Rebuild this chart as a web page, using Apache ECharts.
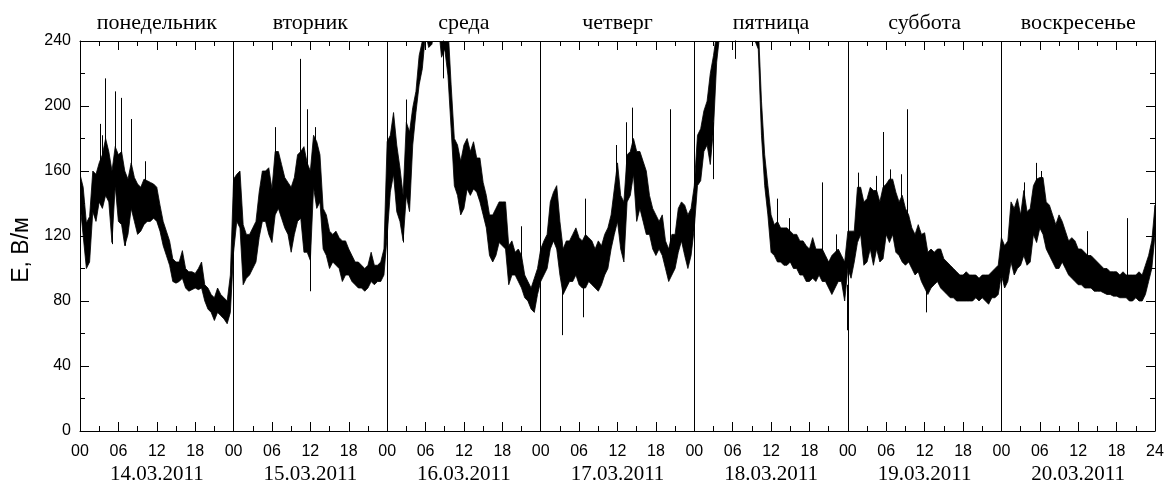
<!DOCTYPE html>
<html>
<head>
<meta charset="utf-8">
<script src="https://cdn.jsdelivr.net/npm/echarts@6/dist/echarts.min.js"></script>
<style>html,body{margin:0;padding:0;background:#fff}#c{width:1167px;height:487px}</style>
</head>
<body>
<div id="c"></div>
<script>
// ---- data ----
const days = ['понедельник','вторник','среда','четверг','пятница','суббота','воскресенье'];
const dates = ['14.03.2011','15.03.2011','16.03.2011','17.03.2011','18.03.2011','19.03.2011','20.03.2011'];
const hourLabels = ['00','06','12','18'];
const endLabel = '24';
const yName = 'E, В/м';

// upper / lower edge of the noisy band, every 30 min (E, V/m)
const hi1 = [158,150,128,132,160,158,165,170,180,172,160,175,170,172,160,155,165,156,152,150,155,154,153,152,150,139,129,123,117,106,104,104,111,100,98,98,97,100,104,90,88,84,82,88,84,82,80,96];
const lo1 = [140,120,100,104,135,129,141,137,145,141,116,151,129,127,114,121,137,129,121,123,127,129,129,131,129,123,114,108,102,92,91,92,94,88,86,87,88,87,88,80,75,73,68,73,71,69,66,73];
const hi2 = [155,158,160,127,121,121,125,129,147,160,160,162,149,172,172,164,156,153,150,156,170,172,175,165,160,182,178,170,137,133,123,121,123,119,117,117,112,108,104,104,102,100,102,110,102,102,104,112];
const lo2 = [110,129,125,90,94,96,100,104,119,129,129,121,116,133,137,131,125,121,110,121,129,131,110,110,105,150,137,141,112,108,100,104,102,100,92,96,96,92,90,88,88,86,88,92,90,92,92,96];
const hi3 = [178,182,196,176,162,145,190,184,199,209,231,240,260,260,265,270,270,260,260,250,213,180,176,166,176,180,172,178,168,168,153,145,133,133,137,141,141,141,114,117,110,112,108,96,92,88,94,100];
const lo3 = [120,147,158,135,129,117,145,135,176,196,213,223,245,236,238,250,250,230,235,219,186,151,145,133,137,149,145,149,147,141,133,125,108,104,108,116,114,112,90,96,96,92,88,82,80,75,73,84];
const hi4 = [112,117,121,141,147,151,129,112,117,117,121,125,119,117,121,119,117,112,117,114,121,125,133,149,165,145,141,170,172,180,172,172,166,160,145,137,133,129,133,117,112,121,121,137,141,139,133,137];
const lo4 = [92,96,100,112,117,112,96,84,88,92,92,96,90,88,88,92,90,88,86,90,96,100,112,121,129,112,104,141,145,158,129,137,129,121,121,112,108,112,108,100,92,96,100,110,117,108,100,108];
const hi5 = [151,182,186,197,203,220,231,245,260,270,270,270,270,270,270,270,270,270,270,265,250,203,170,151,133,127,129,125,125,125,123,121,121,117,117,114,112,119,112,112,112,108,104,108,110,112,108,104];
const lo5 = [125,151,154,172,176,164,186,227,245,250,250,250,250,250,250,250,250,250,250,240,235,182,151,133,110,108,104,104,102,102,104,100,100,96,96,92,92,94,92,96,92,92,88,84,88,92,92,80];
const hi6 = [123,123,123,150,150,141,143,150,148,148,141,150,152,155,155,147,141,145,137,133,125,121,127,121,122,110,112,110,112,112,106,104,102,100,98,96,96,98,96,96,96,94,96,96,96,98,100,102];
const lo6 = [100,94,104,116,121,102,104,112,102,112,104,106,121,116,121,110,108,104,102,104,100,96,98,92,88,84,88,90,92,88,86,84,82,82,80,80,80,80,80,80,82,80,82,80,78,82,82,84];
const hi7 = [119,114,117,141,137,143,133,148,135,137,151,155,156,156,141,139,133,127,133,129,123,117,119,117,112,112,110,108,108,106,104,102,100,100,98,98,98,96,98,96,96,96,96,98,96,102,108,117,139];
const lo7 = [96,88,92,104,96,100,102,108,102,104,121,116,125,121,112,108,104,100,100,104,100,96,94,92,90,90,88,88,88,86,86,86,85,84,84,83,83,82,82,82,80,80,82,80,80,84,92,100,121];

// isolated spikes: [hour from start of week, band level, spike tip]
const spikes = [
  [3.1,150,189],[3.4,150,182],[4.0,150,217],[5.5,150,209],[6.4,150,205],[8.0,150,192],[10.2,140,166],[5.0,140,115],[7.0,140,114],
  [30.5,140,187],[34.47,150,229],[35.5,140,198],[36.0,120,86],[36.7,160,187],
  [51.0,150,204],[50.5,130,116],[56.7,250,217],[68.9,100,126],
  [75.4,100,59],[78.7,100,70],[79.0,110,143],[83.8,140,176],[85.3,150,190],[86.3,160,199],[92.3,100,198],
  [98.97,190,155],[102.35,250,229],[109.0,115,143],[110.8,115,131],[116.0,100,153],[118.2,100,121],[119.9,90,62],
  [121.55,130,159],[124.4,130,157],[125.47,130,184],[126.6,140,161],[128.3,120,158],[129.27,120,198],[132.3,90,73],
  [147.5,120,153],[149.5,130,165],[150.2,130,160],[157.4,100,123],[163.6,90,131]
];

// ---- build series ----
const his = [hi1,hi2,hi3,hi4,hi5,hi6,hi7];
const los = [lo1,lo2,lo3,lo4,lo5,lo6,lo7];
const bandData = [];
his.forEach((h, d) => {
  h.forEach((v, i) => {
    bandData.push([d * 24 + i * 0.5, los[d][i], v]);
  });
});
const spikeLines = spikes.map(s => ({coords: [[s[0], s[1]], [s[0], s[2]]]}));
const totalHours = days.length * 24;

const sans = 'Liberation Sans';
const serif = 'Liberation Serif';

const chart = echarts.init(document.getElementById('c'), null, {renderer: 'canvas'});
const valueXAxis = (pos, labels) => ({
  type: 'value', min: 0, max: totalHours, interval: 6, position: pos, z: 10,
  axisLine: {show: true, onZero: false, lineStyle: {color: '#000', width: 1}},
  axisTick: {show: true, inside: true, length: 9, lineStyle: {color: '#000'}},
  minorTick: {show: true, splitNumber: 2, length: 5, lineStyle: {color: '#000'}},
  splitLine: {show: false},
  axisLabel: labels ? {
    show: true, color: '#000', fontFamily: sans, fontSize: 16, margin: 13,
    formatter: v => v === totalHours ? endLabel : hourLabels[(v % 24) / 6]
  } : {show: false}
});
const valueYAxis = (pos, labels) => ({
  type: 'value', min: 0, max: 240, interval: 40, position: pos, z: 10,
  axisLine: {show: true, onZero: false, lineStyle: {color: '#000', width: 1}},
  axisTick: {show: true, inside: true, length: 9, lineStyle: {color: '#000'}},
  minorTick: {show: true, splitNumber: 2, length: 5, lineStyle: {color: '#000'}},
  splitLine: {show: false},
  axisLabel: labels ? {show: true, color: '#000', fontFamily: sans, fontSize: 16, margin: 9} : {show: false},
  name: labels ? yName : '', nameLocation: 'middle', nameGap: 46, nameRotate: 90,
  nameTextStyle: {color: '#000', fontFamily: sans, fontSize: 23, padding: [0, 28, 0, 0]}
});
const catAxis = (pos, data, margin, size) => ({
  type: 'category', data: data, position: pos, boundaryGap: true,
  axisLine: {show: false}, axisTick: {show: false}, splitLine: {show: false},
  axisLabel: {show: true, color: '#000', fontFamily: serif, fontSize: size, margin: margin, interval: 0}
});

chart.setOption({
  animation: false,
  backgroundColor: '#fff',
  grid: {left: 80, right: 12, top: 41, bottom: 56, containLabel: false},
  xAxis: [valueXAxis('bottom', true), valueXAxis('top', false), catAxis('bottom', dates, 33, 21), catAxis('top', days, 7, 22)],
  yAxis: [valueYAxis('left', true), valueYAxis('right', false)],
  series: [
    {
      type: 'custom', name: 'band', data: bandData, clip: true, z: 3,
      encode: {x: 0, y: [1, 2]},
      renderItem: (params, api) => {
        if (params.dataIndexInside !== 0) return null;
        const n = params.dataInsideLength;
        const upper = [], lower = [];
        for (let j = 0; j < n; j++) {
          const t = api.value(0, j);
          upper.push(api.coord([t, api.value(2, j)]));
          lower.unshift(api.coord([t, api.value(1, j)]));
        }
        return {type: 'polygon', shape: {points: upper.concat(lower)},
                style: {fill: '#000', stroke: '#000', lineWidth: 0.8, lineJoin: 'round'}};
      }
    },
    {
      type: 'lines', coordinateSystem: 'cartesian2d', data: spikeLines, clip: true,
      lineStyle: {color: '#000', width: 1, opacity: 1}, z: 4,
      markLine: {
        silent: true, symbol: 'none', label: {show: false},
        lineStyle: {color: '#000', type: 'solid', width: 1},
        data: days.slice(1).map((_, i) => ({xAxis: (i + 1) * 24}))
      }
    }
  ]
});
</script>
</body>
</html>
